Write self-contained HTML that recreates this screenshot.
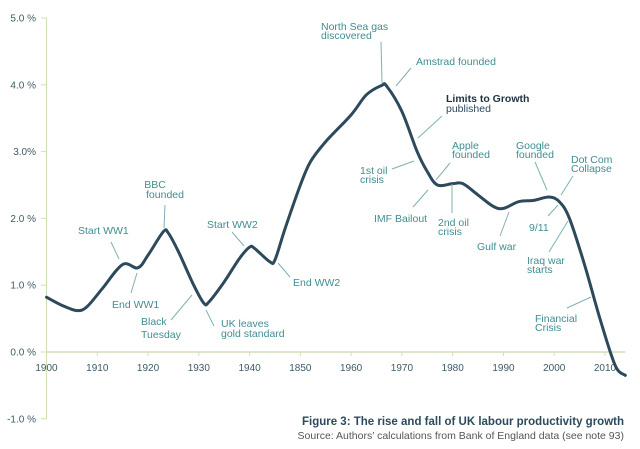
<!DOCTYPE html>
<html><head><meta charset="utf-8"><style>
body{margin:0;background:#fff;width:640px;height:449px;overflow:hidden;font-family:"Liberation Sans",sans-serif}
svg{display:block}
.t{fill:#3f8e92;font-size:10.5px}
.ax{fill:#3f5a66;font-size:10px}
.ld{stroke:#7fb0b3;stroke-width:1}
</style></head><body>
<svg width="640" height="449">
<g id="axes"></g>
<path id="curve" fill="none" stroke="#2d4a5c" stroke-width="3" stroke-linejoin="round" stroke-linecap="round"/>
<g>
<text class="t" x="78" y="234">Start WW1</text><line class="ld" x1="111" y1="242" x2="119" y2="259"/>
<text class="t" x="112" y="308">End WW1</text><line class="ld" x1="131" y1="293" x2="137" y2="273"/>
<text class="t" x="155" y="188" text-anchor="middle">BBC</text><text class="t" x="165" y="198" text-anchor="middle">founded</text><line class="ld" x1="165" y1="205" x2="164" y2="228"/>
<text class="t" x="141" y="325">Black</text><text class="t" x="141" y="338">Tuesday</text><line class="ld" x1="171" y1="320" x2="192" y2="295"/>
<text class="t" x="221" y="327">UK leaves</text><text class="t" x="221" y="337">gold standard</text><line class="ld" x1="214" y1="326" x2="206" y2="310"/>
<text class="t" x="207" y="228">Start WW2</text><line class="ld" x1="232" y1="232" x2="244" y2="246"/>
<text class="t" x="293" y="286">End WW2</text><line class="ld" x1="290" y1="277" x2="278" y2="263"/>
<text class="t" x="321" y="30">North Sea gas</text><text class="t" x="321" y="39">discovered</text><line class="ld" x1="381" y1="42" x2="382" y2="83"/>
<text class="t" x="416" y="65">Amstrad founded</text><line class="ld" x1="411" y1="68" x2="396" y2="86"/>
<text x="446" y="102" style="fill:#1e3340;font-size:10.5px;font-weight:bold">Limits to Growth</text><text class="t" x="446" y="112" style="fill:#2d4a5c">published</text><line class="ld" x1="442" y1="116" x2="418" y2="138"/>
<text class="t" x="360" y="174">1st oil</text><text class="t" x="360" y="183">crisis</text><line class="ld" x1="392" y1="169" x2="414" y2="161"/>
<text class="t" x="452" y="149">Apple</text><text class="t" x="452" y="158">founded</text><line class="ld" x1="450" y1="163" x2="436" y2="180"/>
<text class="t" x="374" y="222">IMF Bailout</text><line class="ld" x1="413" y1="207" x2="428" y2="190"/>
<text class="t" x="438" y="226">2nd oil</text><text class="t" x="438" y="235">crisis</text><line class="ld" x1="452" y1="213" x2="452" y2="184"/>
<text class="t" x="516" y="149">Google</text><text class="t" x="516" y="158">founded</text><line class="ld" x1="535" y1="162" x2="547" y2="190"/>
<text class="t" x="571" y="163">Dot Com</text><text class="t" x="571" y="172">Collapse</text><line class="ld" x1="573" y1="176" x2="561" y2="195"/>
<text class="t" x="477" y="250">Gulf war</text><line class="ld" x1="500" y1="236" x2="509" y2="212"/>
<text class="t" x="529" y="231">9/11</text><line class="ld" x1="548" y1="216" x2="558" y2="205"/>
<text class="t" x="527" y="264">Iraq war</text><text class="t" x="527" y="273">starts</text><line class="ld" x1="549" y1="252" x2="568" y2="221"/>
<text class="t" x="535" y="322">Financial</text><text class="t" x="535" y="331">Crisis</text><line class="ld" x1="567" y1="308" x2="591" y2="297"/>
</g>
<text x="624" y="425" text-anchor="end" style="fill:#2d4a5c;font-size:11.5px;font-weight:bold">Figure 3: The rise and fall of UK labour productivity growth</text>
<text x="624" y="439" text-anchor="end" style="fill:#555;font-size:10.5px">Source: Authors’ calculations from Bank of England data (see note 93)</text>
</svg>
<script>
const years=[1900,1903,1906,1908,1911,1915,1918,1920,1923,1924,1926,1929,1931,1932,1935,1938,1940,1941,1944,1945,1947,1950,1952,1955,1960,1963,1966,1967,1970,1973,1975,1977,1980,1982,1985,1988,1990,1993,1996,1999,2001,2003,2006,2009,2012,2014];
const growth=[0.82,0.7,0.62,0.68,0.95,1.31,1.26,1.45,1.8,1.78,1.5,1.0,0.73,0.75,1.05,1.4,1.57,1.55,1.35,1.38,1.85,2.5,2.85,3.15,3.55,3.85,3.99,3.98,3.6,3.0,2.7,2.5,2.52,2.52,2.35,2.18,2.15,2.25,2.27,2.32,2.25,2.0,1.3,0.5,-0.2,-0.35];
const xTickYears=[1900,1910,1920,1930,1940,1950,1960,1970,1980,1990,2000,2010];
const xTickLabels=["1900","1910","1920","1930","1940","1850","1960","1970","1980","1990","2000","2010"];
const yTicks=[-1,0,1,2,3,4,5];
const yTickLabels=["-1.0 %","0.0 %","1.0 %","2.0 %","3.0%","4.0 %","5.0 %"];
const X=y=>46.5+(y-1900)*(605-46.5)/110;
const Y=v=>352-v*66.8;
const NS="http://www.w3.org/2000/svg";
const ax=document.getElementById('axes');
function mk(t,a,p){const e=document.createElementNS(NS,t);for(const k in a)e.setAttribute(k,a[k]);(p||ax).appendChild(e);return e;}
const yl=mk('line',{x1:46.5,x2:46.5,y1:Y(5),y2:Y(-1),stroke:'#d3dfb5','stroke-width':1.2});


const xl=mk('line',{x1:46.5,x2:X(2014),y1:Y(0),y2:Y(0),stroke:'#d3dfb5','stroke-width':1.5});


yTicks.forEach((v,i)=>{
 mk('line',{x1:41,x2:46.5,y1:Y(v),y2:Y(v),stroke:'#d3dfb5'});
 const t=mk('text',{x:36,y:Y(v)+3.5,'text-anchor':'end',class:'ax'});t.textContent=yTickLabels[i];
 
 
});
xTickYears.forEach((y,i)=>{
 mk('line',{x1:X(y),x2:X(y),y1:Y(0),y2:Y(0)+4,stroke:'#d3dfb5'});
 const t=mk('text',{x:X(y),y:Y(0)+19,'text-anchor':'middle',class:'ax'});t.textContent=xTickLabels[i];
 
 
});
const pts=years.map((y,i)=>[X(y),Y(growth[i])]);
let d='M'+pts[0][0]+','+pts[0][1];
for(let i=0;i<pts.length-1;i++){
 const p0=pts[i-1]||pts[i],p1=pts[i],p2=pts[i+1],p3=pts[i+2]||p2;
 const c1=[p1[0]+(p2[0]-p0[0])/6,p1[1]+(p2[1]-p0[1])/6],c2=[p2[0]-(p3[0]-p1[0])/6,p2[1]-(p3[1]-p1[1])/6];
 d+=`C${c1[0]},${c1[1]} ${c2[0]},${c2[1]} ${p2[0]},${p2[1]}`;
}
document.getElementById('curve').setAttribute('d',d);
</script>
</body></html>
